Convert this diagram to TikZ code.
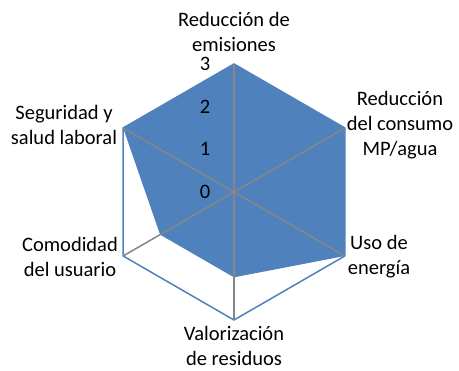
\documentclass[tikz,border=0pt]{standalone}
\usepackage{fontspec}
\setmainfont{Carlito}
\definecolor{serie}{HTML}{4F81BD}
\definecolor{eje}{HTML}{868686}

\tikzset{
  etiqueta/.style={align=center, inner sep=0pt},
  radio/.style={eje, line width=1.5pt},
  borde/.style={serie, line width=1.5pt, line join=miter}
}

\begin{document}
\begin{tikzpicture}[x=1pt,y=1pt,font=\fontsize{20.5}{25}\selectfont]
  \useasboundingbox (-234,-179) rectangle (225,192);
  \coordinate (c) at (0,0);
  % vértices del hexágono (valor 3)
  \foreach \a [count=\i] in {90,30,-30,-90,-150,150}
    \coordinate (v\i) at (\a:128);
  % puntos de la serie
  \foreach \a/\v [count=\i] in {90/3,30/3,-30/3,-90/2,-150/2,150/3}
    \coordinate (d\i) at (\a:\v*42.667);

  % hexágono exterior
  \draw[borde] (v1) -- (v2) -- (v3) -- (v4) -- (v5) -- (v6) -- cycle;
  % área de la serie
  \fill[serie] (d1) -- (d2) -- (d3) -- (d4) -- (d5) -- (d6) -- cycle;
  % ejes
  \foreach \i in {1,...,6}
    \draw[radio] (c) -- (v\i);

  % escala (de 0 a 3)
  \foreach \n in {0,...,3}
    \node (n\n) at (-29,\n*42.667) {\n};

  % categorías
  \node[etiqueta] (emis) at (0,160.5) {Reducción de\\emisiones};
  \node[etiqueta] (cons) at (166,67) {Reducción\\del consumo\\MP/agua};
  \node[etiqueta] (ener) at (145,-64.5) {Uso de\\energía};
  \node[etiqueta] (resi) at (0,-154) {Valorización\\de residuos};
  \node[etiqueta] (como) at (-164,-64.5) {Comodidad\\del usuario};
  \node[etiqueta] (segu) at (-170,67.5) {Seguridad y\\salud laboral};
\end{tikzpicture}
\end{document}
